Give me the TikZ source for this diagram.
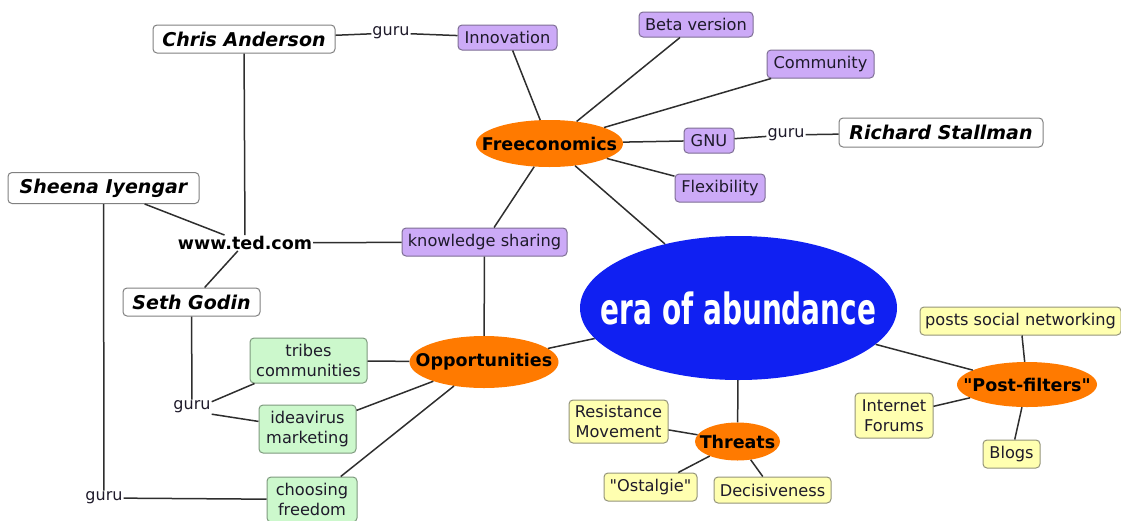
\documentclass[tikz,border=0pt]{standalone}
\usepackage{fontspec}
\setmainfont{DejaVu Sans}[Ligatures=TeXOff]
\usetikzlibrary{shapes.geometric}
\definecolor{purp}{HTML}{CCAAF7}
\definecolor{purpb}{HTML}{7E6E94}
\definecolor{mint}{HTML}{CCF8CC}
\definecolor{mintb}{HTML}{7E9A7E}
\definecolor{yel}{HTML}{FFFFB0}
\definecolor{yelb}{HTML}{94947A}
\definecolor{orng}{HTML}{FF7A00}
\definecolor{blu}{HTML}{1020F2}
\definecolor{lin}{HTML}{2E2E2E}
\definecolor{txt}{HTML}{1E1A2A}
\newcommand{\zw}[1]{\makebox[0pt]{#1}}
\begin{document}
\begin{tikzpicture}[x=1pt,y=-1pt,
 box/.style={draw=#1, rounded corners=4pt, line width=1pt, inner sep=0pt, align=center,
   font=\fontsize{16.2}{19.5}\selectfont, text=txt},
 pbox/.style={box=purpb, fill=purp},
 gbox/.style={box=mintb, fill=mint},
 ybox/.style={box=yelb, fill=yel},
 wbox/.style={box=gray, fill=white, text=black, font=\fontsize{19}{22}\selectfont\bfseries\itshape},
 oval/.style={ellipse, fill=orng, inner sep=0pt, text=black, font=\fontsize{17.5}{20}\selectfont\bfseries},
 plain/.style={inner sep=1pt, text=txt, font=\fontsize{16}{19}\selectfont},
 link/.style={draw=lin, line width=1.5pt}
]
\useasboundingbox (0,0) rectangle (1121,520);
\clip (0,0) rectangle (1121,520);

% nodes
\node[wbox, minimum width=182, minimum height=28] (chris) at (244,39) {Chris Anderson};
\node[wbox, minimum width=191, minimum height=31] (sheena) at (103.5,188) {Sheena Iyengar};
\node[wbox, minimum width=137, minimum height=28] (seth) at (191.5,302) {Seth Godin};
\node[wbox, minimum width=204, minimum height=29] (rich) at (941,132.5) {Richard Stallman};

\node[plain] (guruA) at (391,33) {guru};
\node[plain] (guruR) at (786,135) {guru};
\node[plain] (guruS) at (192,407) {guru};
\node[plain] (guruB) at (104,498) {guru};
\node[plain, font=\fontsize{17.5}{20}\selectfont\bfseries, text=black] (ted) at (245,243) {www.ted.com};

\node[pbox, minimum width=99, minimum height=25] (innov) at (507.5,37.5) {Innovation};
\node[pbox, minimum width=114, minimum height=25] (beta) at (696,24.5) {Beta version};
\node[pbox, minimum width=107, minimum height=28] (comm) at (820.5,64) {Community};
\node[pbox, minimum width=50, minimum height=25] (gnu) at (709,140.5) {GNU};
\node[pbox, minimum width=90, minimum height=28] (flex) at (720,188) {Flexibility};
\node[pbox, minimum width=165, minimum height=28] (know) at (484.5,242) {knowledge sharing};

\node[oval, minimum width=147, minimum height=47] (free) at (549.5,143.5) {\zw{Freeconomics}};
\node[oval, minimum width=149, minimum height=52] (opp) at (484,362) {\zw{Opportunities}};
\node[oval, minimum width=85, minimum height=38] (threat) at (737.5,441.5) {\zw{Threats}};
\node[oval, minimum width=140, minimum height=45] (post) at (1027,384.5) {\zw{"Post-filters"}};

\node[ellipse, fill=blu, inner sep=0pt, minimum width=317, minimum height=144, text=white] (era) at (738.5,308)
  {\zw{\scalebox{0.65}[1]{\fontsize{43}{43}\selectfont\bfseries era of abundance}}};

\node[gbox, minimum width=117, minimum height=45] (tribes) at (308.5,360.5) {tribes\\communities};
\node[gbox, minimum width=97, minimum height=48] (idea) at (307.5,429) {ideavirus\\marketing};
\node[gbox, minimum width=90, minimum height=45] (choose) at (312,499.5) {choosing\\freedom};

\node[ybox, minimum width=99, minimum height=43] (resist) at (618.5,421.5) {Resistance\\Movement};
\node[ybox, minimum width=93, minimum height=28] (ostal) at (650.5,487) {"Ostalgie"};
\node[ybox, minimum width=117, minimum height=26] (decis) at (772.5,490) {Decisiveness};
\node[ybox, minimum width=201, minimum height=28] (social) at (1020.5,321) {posts social networking};
\node[ybox, minimum width=78, minimum height=45] (forum) at (894,415.5) {Internet\\Forums};
\node[ybox, minimum width=57, minimum height=28] (blogs) at (1011.5,454) {Blogs};

% connectors
\draw[link] (chris) -- (guruA);
\draw[link] (guruA) -- (innov);
\draw[link] (chris) -- (ted);
\draw[link] (sheena) -- (ted);
\draw[link] (sheena) -- (guruB);
\draw[link] (guruB) -- (choose);
\draw[link] (ted) -- (know);
\draw[link] (ted) -- (seth);
\draw[link] (seth) -- (guruS);
\draw[link] (guruS.15) -- (tribes);
\draw[link] (guruS.-20) -- (idea);
\draw[link] (innov) -- (free);
\draw[link] (beta) -- (free);
\draw[link] (comm) -- (free);
\draw[link] (free) -- (gnu);
\draw[link] (gnu) -- (guruR);
\draw[link] (guruR) -- (rich);
\draw[link] (free) -- (flex);
\draw[link] (free) -- (know);
\draw[link] (free) -- (era);
\draw[link] (know) -- (opp);
\draw[link] (opp) -- (era);
\draw[link] (opp) -- (tribes);
\draw[link] (opp) -- (idea);
\draw[link] (opp) -- (choose);
\draw[link] (era) -- (threat);
\draw[link] (threat) -- (resist);
\draw[link] (threat) -- (ostal);
\draw[link] (threat) -- (decis);
\draw[link] (era) -- (post);
\draw[link] (post) -- (social);
\draw[link] (post) -- (forum);
\draw[link] (post) -- (blogs);
\end{tikzpicture}
\end{document}
